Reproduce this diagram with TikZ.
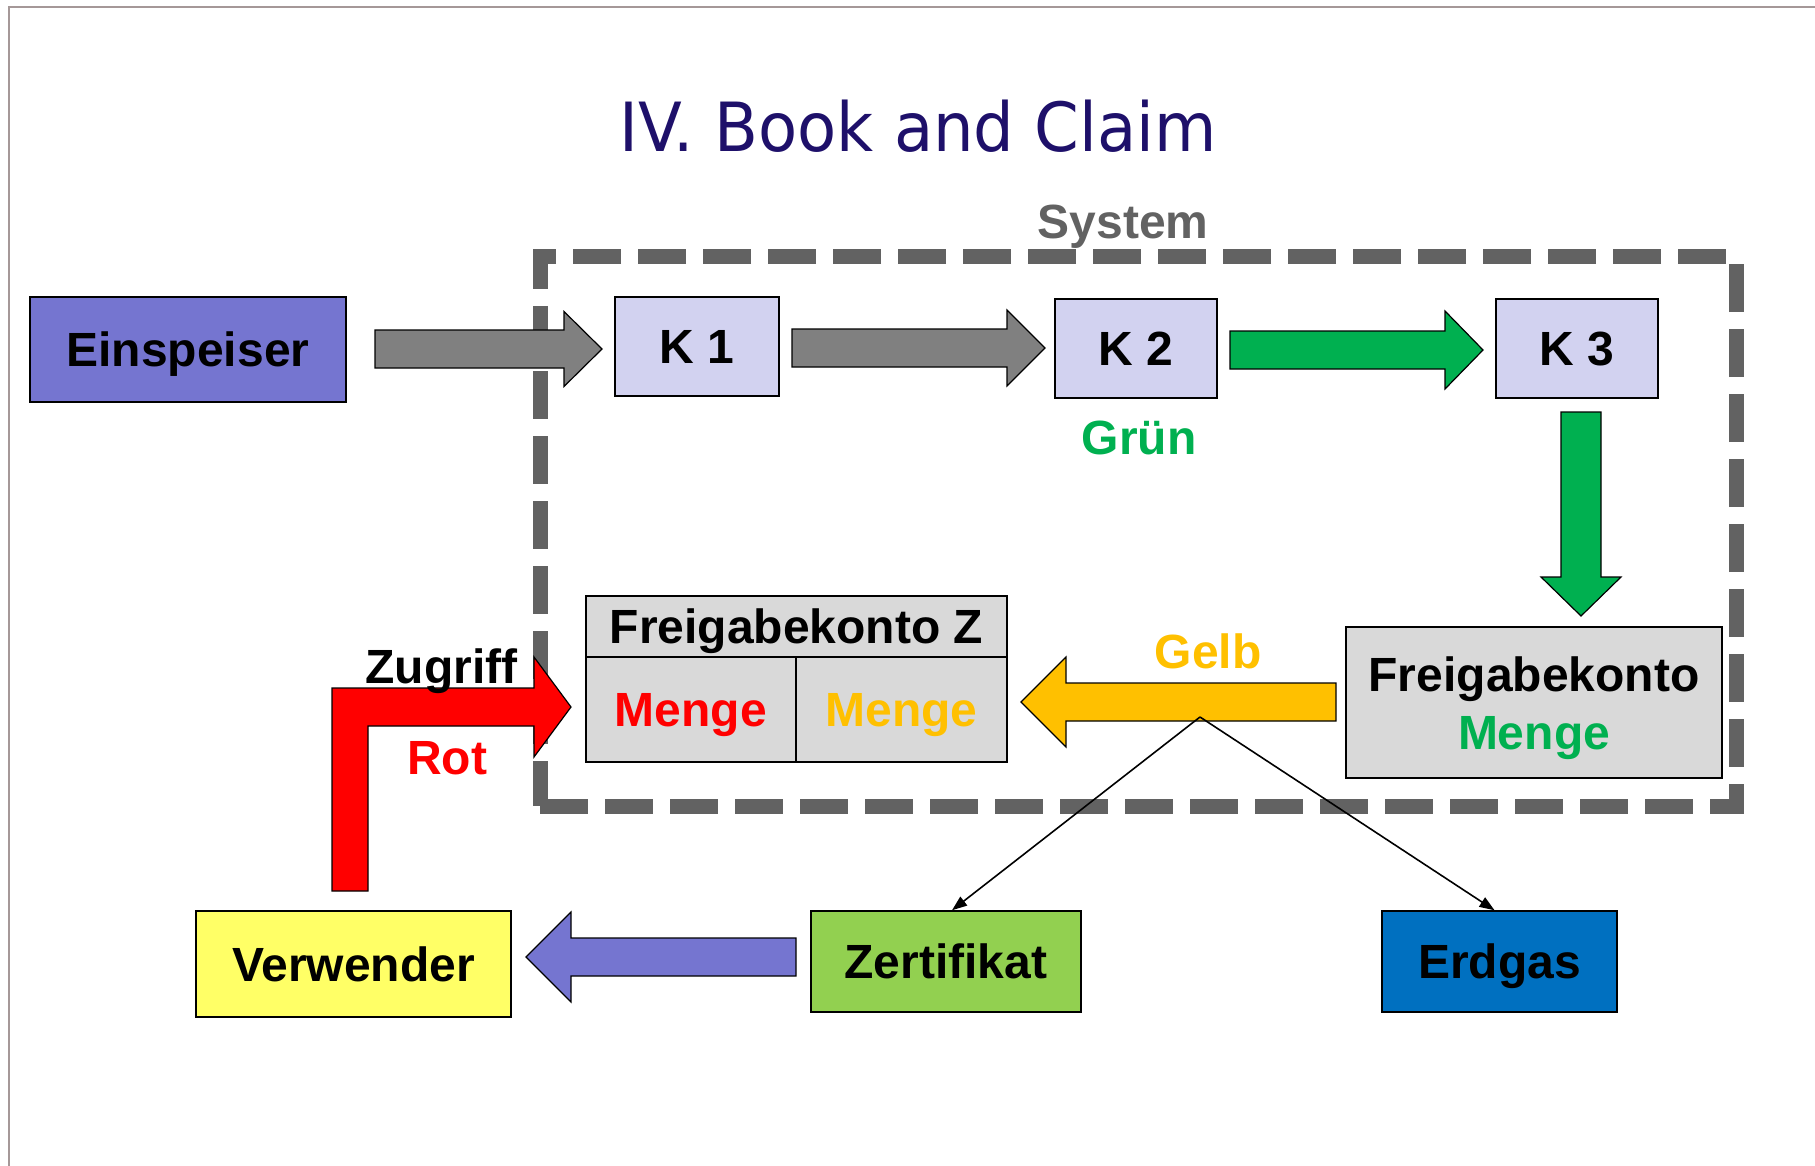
\documentclass[tikz,border=0pt]{standalone}
\usepackage{fontspec}
\setmainfont{Liberation Sans}
\newfontfamily\titlefont{DejaVu Sans}
\usetikzlibrary{arrows.meta}
\definecolor{navy}{RGB}{30,16,106}
\definecolor{framegrey}{RGB}{165,152,152}
\definecolor{sysgrey}{RGB}{98,98,98}
\definecolor{einblue}{RGB}{117,117,208}
\definecolor{kfill}{RGB}{210,210,240}
\definecolor{lgrey}{RGB}{217,217,217}
\definecolor{arrgrey}{RGB}{128,128,128}
\definecolor{mygreen}{RGB}{0,176,80}
\definecolor{myyellow}{RGB}{255,192,0}
\definecolor{myred}{RGB}{255,0,0}
\definecolor{vyellow}{RGB}{255,255,102}
\definecolor{zgreen}{RGB}{146,208,80}
\definecolor{eblue}{RGB}{0,112,192}
\newcommand{\harrow}[7]{\filldraw[blk, fill=#1] (#2,{#5-#6}) -- (#3,{#5-#6}) -- (#3,{#5-#7}) -- (#4,#5) -- (#3,{#5+#7}) -- (#3,{#5+#6}) -- (#2,{#5+#6}) -- cycle;}
\newcommand{\varrow}[7]{\filldraw[blk, fill=#1] ({#5-#6},#2) -- ({#5-#6},#3) -- ({#5-#7},#3) -- (#5,#4) -- ({#5+#7},#3) -- ({#5+#6},#3) -- ({#5+#6},#2) -- cycle;}
\begin{document}
\begin{tikzpicture}[x=1pt,y=-1pt,
  lbl/.style={font=\fontsize{48}{56}\selectfont\bfseries, text height=34.4pt, text depth=0pt, inner sep=0pt},
  box/.style={lbl, draw=black, line width=1.5pt},
  blk/.style={draw=black, line width=1.2pt},
  conn/.style={draw=black, line width=1.6pt, -{Triangle[length=15pt,width=11pt]}}]
\useasboundingbox (0,0) rectangle (1815,1166);
\draw[framegrey, line width=2pt] (9,1166) -- (9,7) -- (1815,7);
\node[font=\titlefont\fontsize{64}{72}\selectfont, text=navy, anchor=base, inner sep=0pt] (title) at (918,152) {\scalebox{1}[1.06]{IV. Book and Claim}};
% system boundary
\node[draw=sysgrey, line width=15pt, dash pattern=on 48pt off 17pt, minimum width=1196pt, minimum height=549pt, inner sep=0pt] (sys) at (1138,531.5) {};
\node[lbl, text=sysgrey] (systxt) at (1123,221.5) {System};
% boxes
\node[box, fill=einblue, minimum width=316pt, minimum height=105pt] (ein) at (188,349.5) {Einspeiser};
\node[box, fill=kfill, minimum width=164pt, minimum height=99pt] (k1) at (697,346.5) {K 1};
\node[box, fill=kfill, minimum width=162pt, minimum height=99pt] (k2) at (1136,348.5) {K 2};
\node[box, fill=kfill, minimum width=162pt, minimum height=99pt] (k3) at (1577,348.5) {K 3};
\node[lbl, text=mygreen] (gruen) at (1139,437) {Grün};
\node[box, fill=lgrey, minimum width=376pt, minimum height=151pt] (fk) at (1534,702.5) {};
\node[lbl] (fkt) at (1534,674) {Freigabekonto};
\node[lbl, text=mygreen] (fkm) at (1534,732) {Menge};
% table Z
\node[box, fill=lgrey, minimum width=421pt, minimum height=61pt] (zhead) at (796.5,626.5) {Freigabekonto Z};
\node[box, fill=lgrey, text=myred, minimum width=210pt, minimum height=105pt] (zl) at (691,709.5) {Menge};
\node[box, fill=lgrey, text=myyellow, minimum width=211pt, minimum height=105pt] (zr) at (901.5,709.5) {Menge};
% bottom boxes
\node[box, fill=vyellow, minimum width=315pt, minimum height=106pt] (ver) at (353.5,964) {Verwender};
\node[box, fill=zgreen, minimum width=270pt, minimum height=101pt] (zert) at (946,961.5) {Zertifikat};
\node[box, fill=eblue, minimum width=235pt, minimum height=101pt] (erd) at (1499.5,961.5) {Erdgas};
% block arrows
\harrow{arrgrey}{375}{564}{602}{349}{19}{37.5}
\harrow{arrgrey}{792}{1007}{1045}{348}{19}{38}
\harrow{mygreen}{1230}{1445}{1483}{350}{19}{39}
\varrow{mygreen}{412}{577}{616}{1581}{20}{40}
\harrow{myyellow}{1336}{1066}{1021}{702}{19}{45}
\harrow{einblue}{796}{571}{526}{957}{19}{45}
\filldraw[blk, fill=myred] (332,891) -- (332,688) -- (534,688) -- (534,657) -- (571,707) -- (534,757) -- (534,726) -- (368,726) -- (368,891) -- cycle;
\node[lbl] (zug) at (441.5,666) {Zugriff};
\node[lbl, text=myred] (rot) at (447,757) {Rot};
\node[lbl, text=myyellow] (gelb) at (1208,651) {Gelb};
% thin connectors
\coordinate (apex) at (1200,717);
\draw[conn] (apex) -- ([xshift=6pt]zert.north);
\draw[conn] (apex) -- ([xshift=-5pt]erd.north);
\end{tikzpicture}
\end{document}
